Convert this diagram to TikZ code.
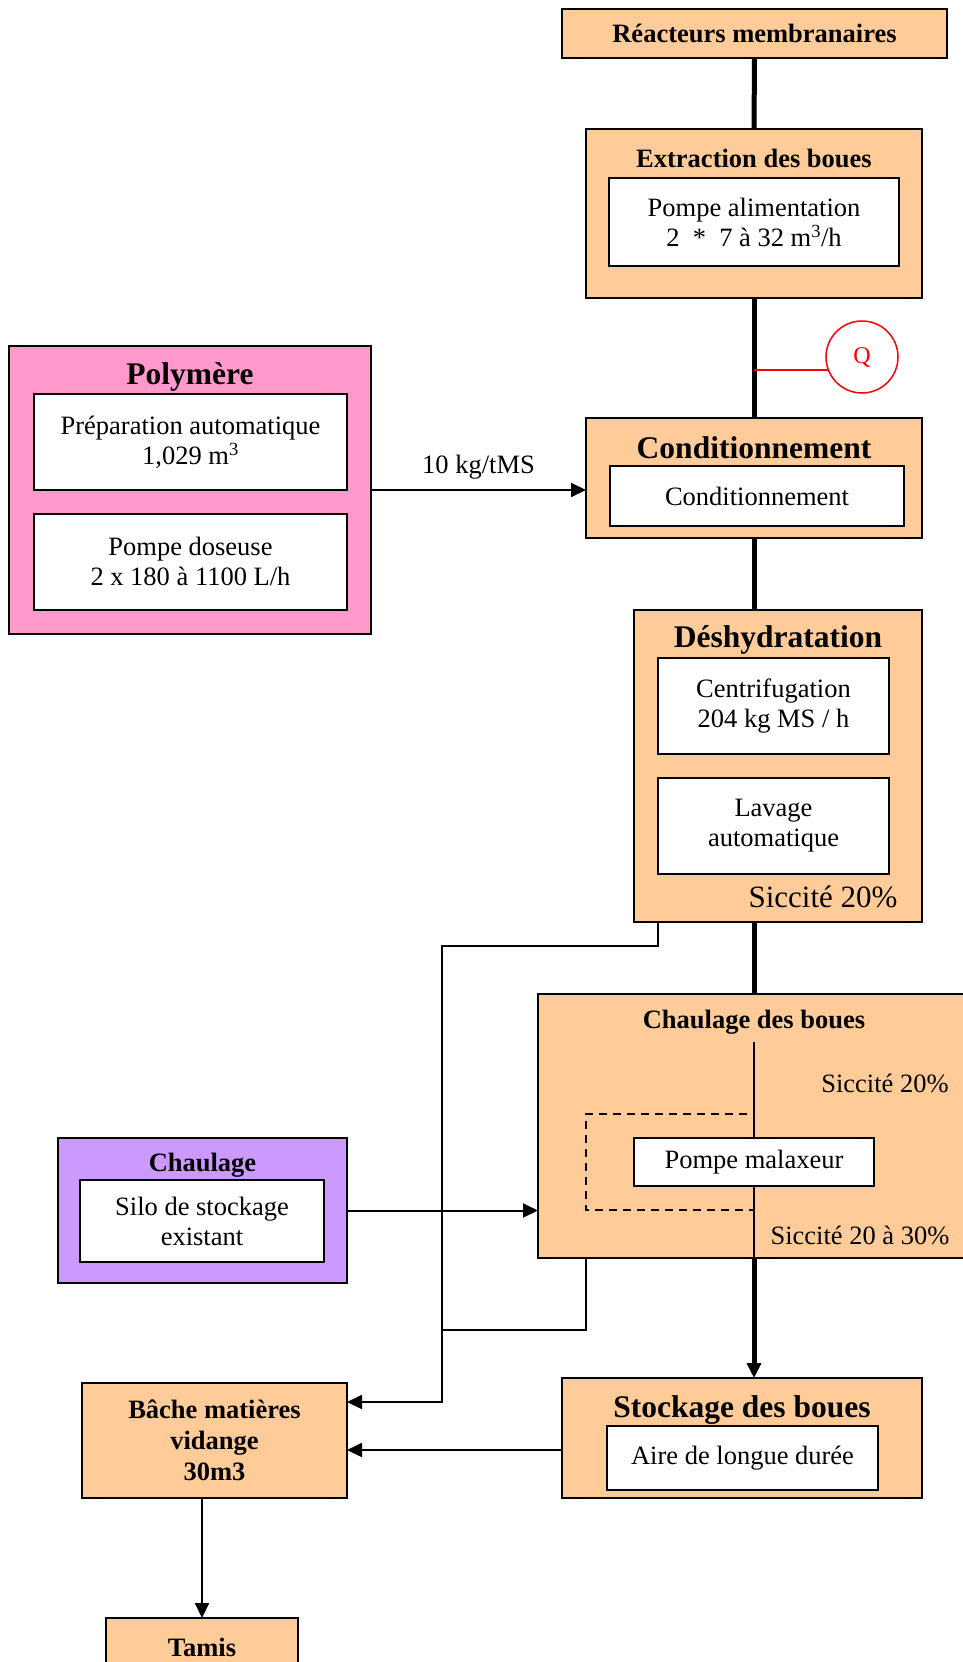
\documentclass[tikz,border=0pt]{standalone}
\usepackage{fontspec}
\setmainfont{Liberation Serif}
\usetikzlibrary{arrows.meta}
\definecolor{peach}{HTML}{FFCC99}
\definecolor{pinkp}{HTML}{FF99CC}
\definecolor{lilac}{HTML}{CC99FF}
\begin{document}
\begin{tikzpicture}[x=1pt,y=-1pt,
  frame/.style={draw=black, line width=2pt, inner sep=0pt, outer sep=0pt},
  outerbox/.style={frame, fill=peach},
  fillonly/.style={fill=peach, inner sep=0pt, outer sep=0pt},
  reg/.style={font=\fontsize{26.5}{30}\selectfont},
  inbox/.style={frame, fill=white, align=center, reg},
  bigt/.style={inner sep=0pt, font=\bfseries\fontsize{31.5}{36}\selectfont},
  smt/.style={inner sep=0pt, align=center, font=\bfseries\fontsize{26.5}{31}\selectfont},
  txt/.style={inner sep=0pt},
  thick line/.style={line width=5pt},
  thin line/.style={line width=2pt},
  arr/.style={-{Triangle[length=15pt,width=14pt]}},
  dash line/.style={line width=2pt, dash pattern=on 8pt off 6pt}
]
\useasboundingbox (0,0) rectangle (963,1662);
\coordinate (spine) at (754,0);

% Reacteurs
\node[outerbox, smt, minimum width=385, minimum height=49] (rm) at (754.5,33.5) {Réacteurs membranaires};

% Extraction
\node[outerbox, minimum width=336, minimum height=169] (ext) at (754,213.5) {};
\node[smt] (extt) at (754,158) {Extraction des boues};
\node[inbox, minimum width=290, minimum height=88] (extin) at (754,222) {Pompe alimentation\\2 \ * \ 7 à 32 m\textsuperscript{3}/h};

% Q
\node[draw=red, circle, line width=1.5pt, minimum size=72pt, inner sep=0pt, text=red, font=\fontsize{24}{28}\selectfont] (q) at (862,357) {Q};

% Conditionnement
\node[outerbox, minimum width=336, minimum height=120] (cond) at (754,478) {};
\node[bigt] (condt) at (754,448) {Conditionnement};
\node[inbox, minimum width=294, minimum height=60] (condin) at (757,496) {Conditionnement};

% Polymere
\node[frame, fill=pinkp, minimum width=362, minimum height=288] (poly) at (190,490) {};
\node[bigt] (polyt) at (190,377) {Polymère};
\node[inbox, minimum width=313, minimum height=96] (poly1) at (190.5,442) {Préparation automatique\\1,029 m\textsuperscript{3}};
\node[inbox, minimum width=313, minimum height=96] (poly2) at (190.5,561.5) {Pompe doseuse\\2 x 180 à 1100 L/h};

% Deshydratation
\node[outerbox, minimum width=288, minimum height=312] (deshy) at (778,766) {};
\node[bigt] (deshyt) at (778,640) {Déshydratation};
\node[inbox, minimum width=231, minimum height=96] (desh1) at (773.5,706) {Centrifugation\\204 kg MS / h};
\node[inbox, minimum width=231, minimum height=96] (desh2) at (773.5,826) {Lavage\\automatique};
\node[txt, font=\fontsize{31}{36}\selectfont] (sic1) at (823,897) {Siccité 20\%};

% Chaulage des boues
\node[fillonly, minimum width=425, minimum height=264] (chb) at (750.5,1126) {};
\draw[thin line] (chb.north east) -- (chb.north west) -- (chb.south west) -- (chb.south east);
\node[smt] (chbt) at (754,1022) {Chaulage des boues};
\node[inbox, minimum width=240, minimum height=48] (pm) at (754,1162) {Pompe malaxeur};
\node[txt, reg] (sic2) at (885,1083) {Siccité 20\%};
\node[txt, reg] (sic3) at (860,1235) {Siccité 20 à 30\%};
\coordinate (c1) at (754,1042);
\draw[thin line] (c1) -- (spine |- pm.north);
\draw[thin line] (spine |- pm.south) -- (spine |- chb.south);
\coordinate (d1) at (747,1114);
\coordinate (d2) at (586,1114);
\coordinate (d3) at (586,1210);
\coordinate (d4) at (754,1210);
\draw[dash line] (d1) -- (d2) -- (d3) -- (d4);

% Chaulage (silo)
\node[frame, fill=lilac, minimum width=289, minimum height=145] (chl) at (202.5,1210.5) {};
\node[smt] (chlt) at (202.5,1165) {Chaulage};
\node[inbox, minimum width=244, minimum height=82] (chlin) at (202,1221) {Silo de stockage\\existant};

% Stockage
\node[outerbox, minimum width=360, minimum height=120] (sto) at (742,1438) {};
\node[bigt] (stot) at (742,1410) {Stockage des boues};
\node[inbox, minimum width=271, minimum height=64] (stoin) at (742.5,1458) {Aire de longue durée};

% Bache
\node[outerbox, smt, minimum width=265, minimum height=115] (bache) at (214.5,1440.5) {Bâche matières\\vidange\\30m3};

% Tamis
\node[fillonly, minimum width=192, minimum height=44] (tamis) at (202,1640) {};
\draw[thin line] (tamis.south west) -- (tamis.north west) -- (tamis.north east) -- (tamis.south east);
\node[smt] (tamist) at (202,1647) {Tamis};

% Main spine
\draw[thick line] (rm.south) -- (ext.north);
\draw[thick line] (ext.south) -- (cond.north);
\draw[thick line] (cond.south) -- (spine |- deshy.north);
\draw[thick line] (spine |- deshy.south) -- (spine |- chb.north);
\draw[thick line, arr] (spine |- chb.south) -- (spine |- sto.north);

% Q sensor
\draw[red, line width=1.5pt] (spine |- q.201) -- (q.201);

% Polymere feed
\draw[thin line, arr] (poly.east) -- (poly.east -| cond.west) node[midway, above=10pt, txt, reg] (dose) {10 kg/tMS};

% Chaulage feed
\draw[thin line, arr] (chl.east) -- (chl.east -| chb.west);

% Return lines
\coordinate (ra) at (658,946);
\coordinate (rb) at (442,946);
\coordinate (bi1) at (347,1402);
\draw[thin line, arr] (deshy.south -| ra) -- (ra) -- (rb) |- (bi1);
\coordinate (rc) at (586,1330);
\coordinate (rd) at (442,1330);
\draw[thin line] (chb.south -| rc) -- (rc) -- (rd);
\coordinate (bi2) at (347,1450);
\draw[thin line, arr] (sto.west |- bi2) -- (bi2);

% Bache -> Tamis
\draw[thin line, arr] (tamis.north |- bache.south) -- (tamis.north);
\end{tikzpicture}
\end{document}
